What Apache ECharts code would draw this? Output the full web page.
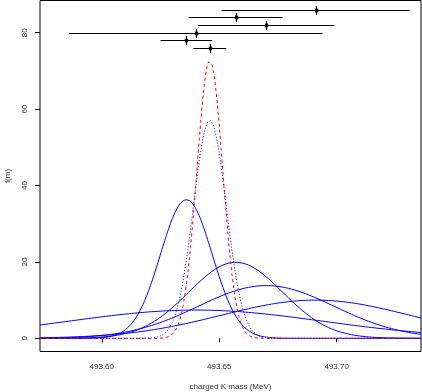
<!DOCTYPE html>
<html>
<head>
<meta charset="utf-8">
<script src="https://cdn.jsdelivr.net/npm/echarts@6/dist/echarts.min.js"></script>
<style>html,body{margin:0;padding:0;background:#fff}#c{width:422px;height:392px}</style>
</head>
<body>
<div id="c"></div>
<script>
const measMass = [493.691, 493.657, 493.670, 493.640, 493.636, 493.646];
const measErr  = [0.040, 0.020, 0.029, 0.054, 0.011, 0.007];
const measRow  = [86, 84, 82, 80, 78, 76];
const measPeak = [10.0, 19.9, 13.8, 7.4, 36.3, 57.0];
const measDotted = [false, false, false, false, false, true];
// Weighted average curve (red dashed)
const avgMass = 493.646;
const avgErr = 0.0055;
const avgPeak = 72.7;
// Axes
const xTicks = [493.60, 493.65, 493.70];
const yTicks = [0, 20, 40, 60, 80];
const xMin = 493.5737, xMax = 493.7359;
const yMin = -3.45, yMax = 88.44;

function gaussCurve(m, s, peak) {
  const pts = [];
  const n = 400;
  for (let i = 0; i <= n; i++) {
    const x = xMin + (xMax - xMin) * i / n;
    const z = (x - m) / s;
    pts.push([x, peak * Math.exp(-0.5 * z * z)]);
  }
  return pts;
}

const font = 'Liberation Sans, Arial, sans-serif';
const series = [];
measMass.forEach((m, i) => {
  series.push({
    type: 'line', data: gaussCurve(m, measErr[i], measPeak[i]),
    showSymbol: false, symbol: 'none', silent: true, clip: true,
    lineStyle: { color: '#0000ff', width: 1, type: measDotted[i] ? [1, 2] : 'solid' },
    z: measDotted[i] ? 3 : 2
  });
});
series.push({
  type: 'line', data: gaussCurve(avgMass, avgErr, avgPeak),
  showSymbol: false, symbol: 'none', silent: true, clip: true,
  lineStyle: { color: '#ff0000', width: 1, type: [3, 3] }, z: 4
});
series.push({
  type: 'custom', z: 5, clip: true,
  data: measMass.map((m, i) => [m, measRow[i], measErr[i]]),
  renderItem: function (params, api) {
    const m = api.value(0), y = api.value(1), e = api.value(2);
    const p = api.coord([m, y]);
    const lo = api.coord([m - e, y]);
    const hi = api.coord([m + e, y]);
    const yy = Math.round(p[1]) + 0.5;
    const xx = Math.round(p[0]) + 0.5;
    return {
      type: 'group',
      children: [
        { type: 'line', shape: { x1: lo[0], y1: yy, x2: hi[0], y2: yy }, style: { stroke: '#000', lineWidth: 1.2 } },
        { type: 'line', shape: { x1: xx, y1: yy - 4.5, x2: xx, y2: yy + 4.5 }, style: { stroke: '#000', lineWidth: 1.2 } },
        { type: 'polygon', shape: { points: [[xx, yy - 3], [xx + 2.5, yy], [xx, yy + 3], [xx - 2.5, yy]] }, style: { fill: '#000' } }
      ]
    };
  }
});

const chart = echarts.init(document.getElementById('c'), null, { renderer: 'canvas' });
chart.setOption({
  animation: false,
  backgroundColor: '#fff',
  grid: { left: 40, right: 1, top: 0.5, bottom: 40.5, show: true, borderColor: '#000', borderWidth: 1, backgroundColor: 'transparent', containLabel: false, outerBoundsMode: 'none' },
  xAxis: {
    type: 'value', min: xMin, max: xMax,
    axisLine: { show: false },
    splitLine: { show: false },
    axisTick: { show: true, length: 4, customValues: xTicks, lineStyle: { color: '#000' } },
    axisLabel: { customValues: xTicks, formatter: v => v.toFixed(2), fontSize: 8, fontFamily: font, color: '#333', margin: 11 },
    name: 'charged K mass (MeV)', nameLocation: 'middle', nameGap: 31,
    nameTextStyle: { fontSize: 8, fontFamily: font, color: '#333' }
  },
  yAxis: {
    type: 'value', min: yMin, max: yMax,
    axisLine: { show: false },
    splitLine: { show: false },
    axisTick: { show: true, length: 5, customValues: yTicks, lineStyle: { color: '#000' } },
    axisLabel: { customValues: yTicks, rotate: 90, fontSize: 8, fontFamily: font, color: '#333', margin: 11 },
    name: 'f(m)', nameLocation: 'middle', nameGap: 28, nameRotate: 90,
    nameTextStyle: { fontSize: 8, fontFamily: font, color: '#333' }
  },
  series: series
});
</script>
</body>
</html>
